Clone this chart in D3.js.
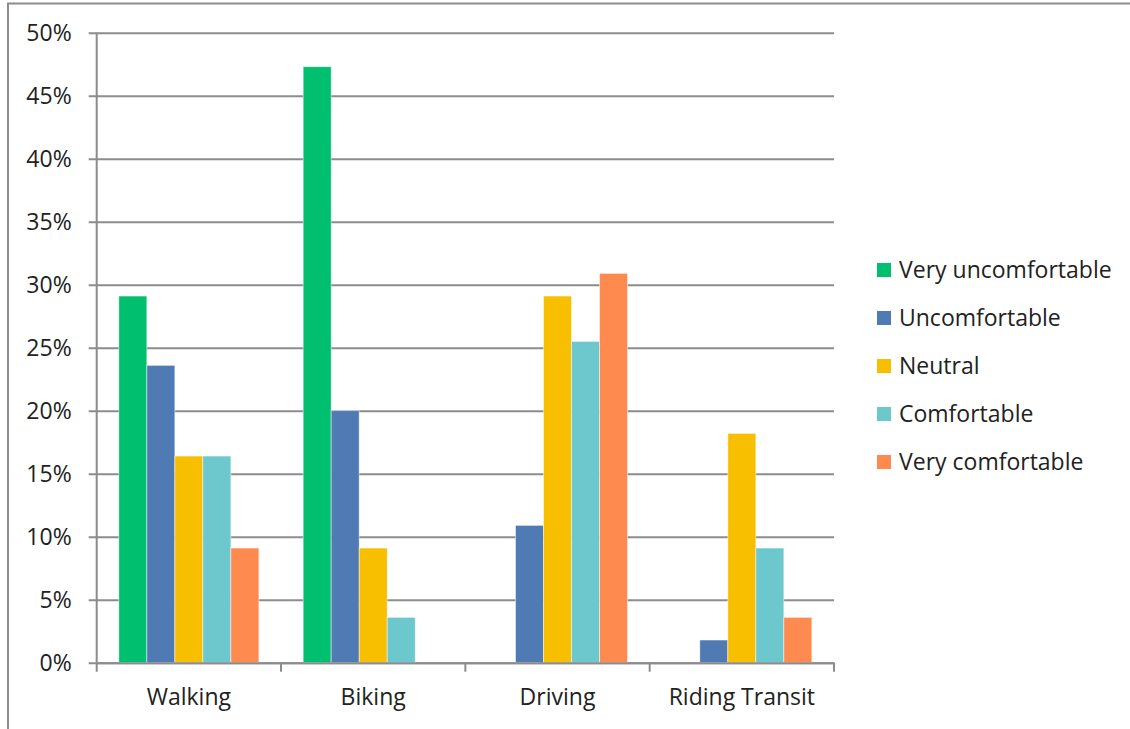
<!DOCTYPE html>
<html>
<head>
<meta charset="utf-8">
<script src="https://cdn.jsdelivr.net/npm/d3@7"></script>
<style>
  html, body { margin: 0; padding: 0; background: #fff; }
  svg { display: block; }
  text { font-family: "Open Sans", "Liberation Sans", sans-serif; fill: #222; }
</style>
</head>
<body>
<svg id="chart" width="1130" height="729"></svg>
<script>
// Comfort levels by travel mode (share of respondents, %)
const modes = ["Walking", "Biking", "Driving", "Riding Transit"];
const levels = ["Very uncomfortable", "Uncomfortable", "Neutral", "Comfortable", "Very comfortable"];
const veryUncomfortable = [29.1, 47.3, 0, 0];
const uncomfortable     = [23.6, 20.0, 10.9, 1.8];
const neutral           = [16.4, 9.1, 29.1, 18.2];
const comfortable       = [16.4, 3.6, 25.5, 9.1];
const veryComfortable   = [9.1, 0, 30.9, 3.6];
const yTicks = [0, 5, 10, 15, 20, 25, 30, 35, 40, 45, 50];
const tickLabels = yTicks.map(v => v + "%");
const colors = ["#00bf6f", "#4f7ab4", "#f8be00", "#6cc8cc", "#ff8a50"];

const seriesValues = [veryUncomfortable, uncomfortable, neutral, comfortable, veryComfortable];
const rows = modes.map((m, i) => ({ mode: m, values: seriesValues.map(s => s[i]) }));

const svg = d3.select("#chart");
const plot = { left: 96.7, right: 834, top: 32.7, bottom: 662.7 };
const fontSize = 23;

// outer chart frame
svg.append("rect")
  .attr("x", 8).attr("y", 3.5)
  .attr("width", 1200).attr("height", 800)
  .attr("fill", "none").attr("stroke", "#8c8c8c").attr("stroke-width", 2);

const x0 = d3.scaleBand().domain(modes).range([plot.left, plot.right]).paddingInner(0).paddingOuter(0);
const x1 = d3.scaleBand().domain(levels).range([0, x0.bandwidth()]).paddingOuter(0.79).paddingInner(0);
const y = d3.scaleLinear().domain([0, 50]).range([plot.bottom, plot.top]);
const color = d3.scaleOrdinal().domain(levels).range(colors);

// horizontal gridlines and y axis
const yAxis = d3.axisLeft(y).tickValues(yTicks).tickFormat((d, i) => tickLabels[i])
  .tickSize(-(plot.right - plot.left));
const gy = svg.append("g").attr("transform", `translate(${plot.left},0)`).call(yAxis);
gy.select(".domain").remove();
gy.selectAll(".tick line").attr("stroke", "#8c8c8c").attr("stroke-width", 2).attr("x1", -8);
gy.selectAll(".tick text").attr("font-size", fontSize).attr("fill", "#222")
  .attr("font-family", "'Open Sans', sans-serif").attr("x", -25);

// bars
const groups = svg.append("g").selectAll("g").data(rows).join("g")
  .attr("transform", d => `translate(${x0(d.mode)},0)`);
groups.selectAll("rect")
  .data(d => d.values.map((v, i) => ({ level: levels[i], value: v })).filter(d => d.value > 0))
  .join("rect")
  .attr("x", d => x1(d.level))
  .attr("y", d => y(d.value))
  .attr("width", x1.bandwidth())
  .attr("height", d => y(0) - y(d.value))
  .attr("fill", d => color(d.level))
  .attr("stroke", "rgba(255,255,255,0.6)").attr("stroke-width", 0.8);

// vertical axis line
svg.append("line")
  .attr("x1", plot.left).attr("x2", plot.left)
  .attr("y1", plot.top).attr("y2", plot.bottom)
  .attr("stroke", "#8c8c8c").attr("stroke-width", 2);

// category axis
const xAxis = d3.axisBottom(x0).tickSize(0).tickPadding(26);
const gx = svg.append("g").attr("transform", `translate(0,${plot.bottom})`).call(xAxis);
gx.select(".domain").attr("stroke", "#8c8c8c").attr("stroke-width", 2);
gx.selectAll(".tick text").attr("font-size", fontSize).attr("fill", "#222")
  .attr("font-family", "'Open Sans', sans-serif");
// category separators
const edges = modes.map(m => x0(m)).concat([plot.right]);
gx.selectAll("line.sep").data(edges).join("line").attr("class", "sep")
  .attr("x1", d => d).attr("x2", d => d).attr("y1", 0).attr("y2", 9)
  .attr("stroke", "#8c8c8c").attr("stroke-width", 2);

// legend
const legend = svg.append("g").attr("transform", "translate(877,270)");
const item = legend.selectAll("g").data(levels).join("g")
  .attr("transform", (d, i) => `translate(0,${i * 48})`);
item.append("rect").attr("x", 0).attr("y", -7).attr("width", 14).attr("height", 14)
  .attr("fill", d => color(d));
item.append("text").attr("x", 22).attr("y", 0).attr("dy", "0.36em")
  .attr("font-size", fontSize).text(d => d);
</script>
</body>
</html>
